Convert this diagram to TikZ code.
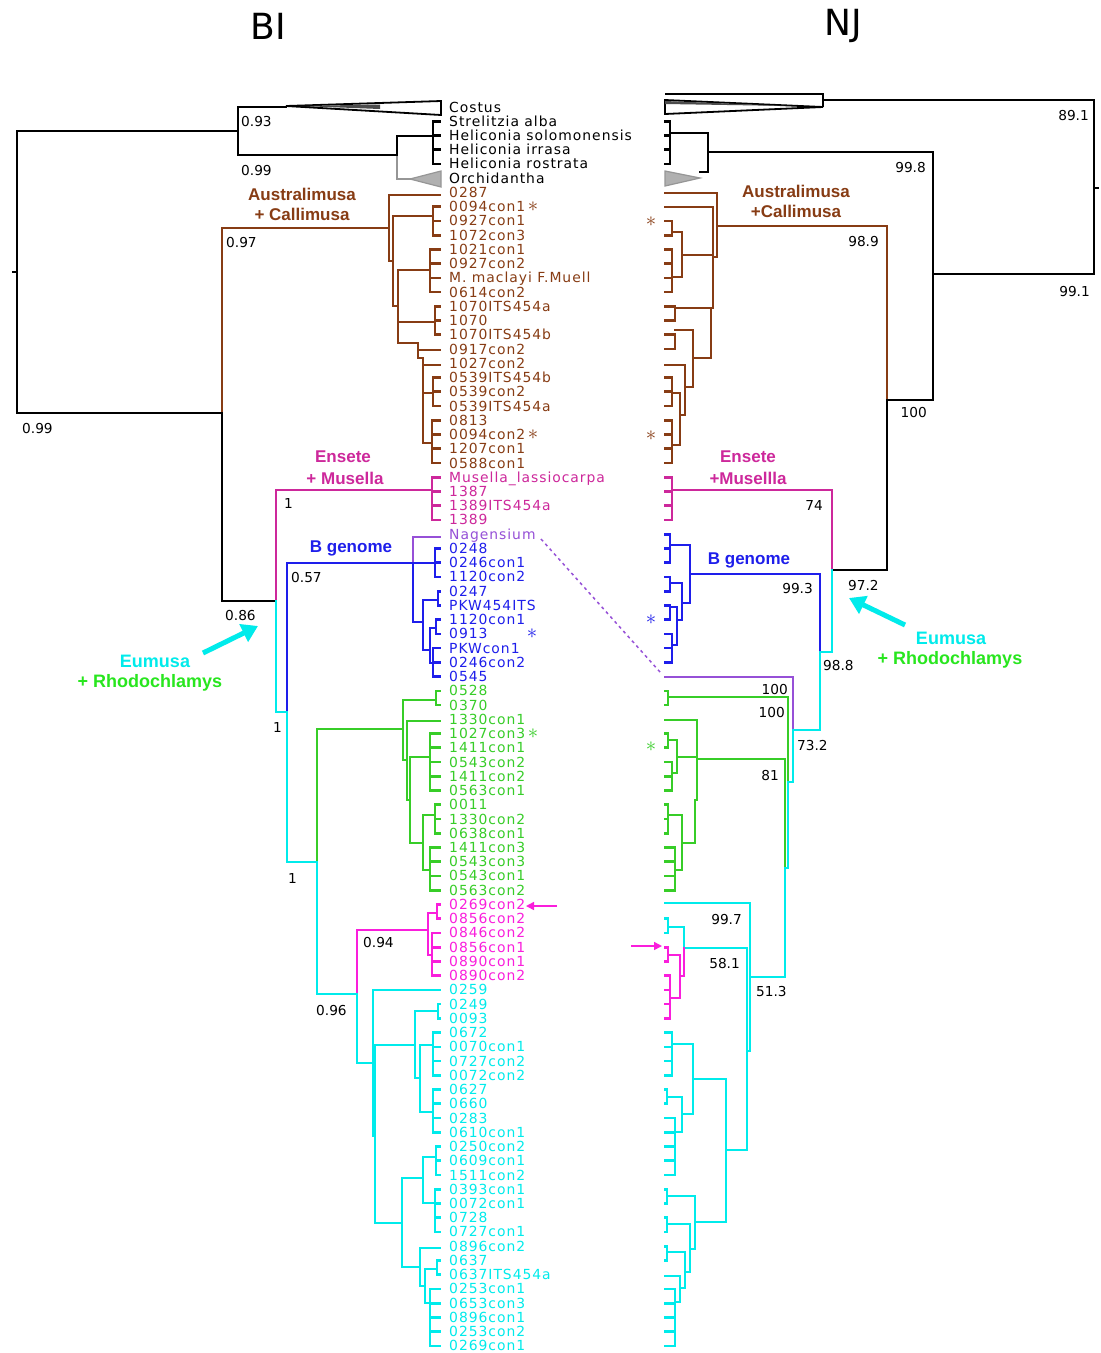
\documentclass[tikz,border=0pt]{standalone}
\usepackage{fontspec}
\setmainfont{DejaVu Sans}
\newfontfamily\tipf[LetterSpace=7]{DejaVu Sans}
\newfontfamily\cladef{Liberation Sans}
\usetikzlibrary{arrows.meta}
\definecolor{cbrown}{RGB}{135,60,20}
\definecolor{cens}{RGB}{205,40,155}
\definecolor{cblue}{RGB}{30,30,235}
\definecolor{cpurp}{RGB}{150,80,215}
\definecolor{cgreen}{RGB}{55,205,40}
\definecolor{cgreenl}{RGB}{40,230,30}
\definecolor{cpink}{RGB}{250,30,220}
\definecolor{ccyan}{RGB}{0,235,235}
\definecolor{cgray}{RGB}{150,150,150}
\newcommand\myry[1]{(107+14.24*(#1-1))}
\newcommand\mycomb[5]{%
  \draw[#1] (#2,{\myry{#4}}) -- (#2,{\myry{#5}});
  \foreach \k in {#4,...,#5}{\draw[#1] (#2,{\myry{\k}}) -- (#3,{\myry{\k}});}}
\tikzset{
  br/.style={line width=2.7pt,line cap=rect},
  bk/.style={br,black}, bb/.style={br,cbrown}, be/.style={br,cens},
  bl/.style={br,cblue}, bp/.style={br,cpurp}, bg/.style={br,cgreen},
  bpk/.style={br,cpink}, bc/.style={br,ccyan}, bgr/.style={br,cgray},
  tip/.style={anchor=west,inner sep=0pt,text height=10pt,text depth=0pt,font=\tipf\fontsize{13.9}{14}\selectfont},
  num/.style={inner sep=0pt,text height=10pt,text depth=0pt,font=\fontsize{13.7}{14}\selectfont},
  clade/.style={inner sep=0pt,font=\cladef\bfseries\fontsize{17}{18}\selectfont},
  bigclade/.style={inner sep=0pt,font=\cladef\bfseries\fontsize{18}{19}\selectfont},
  star/.style={inner sep=0pt,font=\fontsize{22}{22}\selectfont},
  fatarrow/.style={ccyan,line width=5pt,-{Triangle[length=16pt,width=19pt]}},
  thinarrow/.style={cpink,line width=1.5pt,-{Triangle[length=8pt,width=8pt]}}
}
\begin{document}
\begin{tikzpicture}[x=1pt,y=-1pt]
\useasboundingbox (0,0) rectangle (1101,1353);
\fill[white] (0,0) rectangle (1101,1353);
% titles
\node[font=\fontsize{36}{36}\selectfont] (tBI) at (268,26) {BI};
\node[font=\fontsize{36}{36}\selectfont] (tNJ) at (843,26) {NJ};

% ================= BI tree =================
\draw[bk] (17,131)--(17,413);
\draw[bk] (13,272)--(17,272);
\draw[bk] (17,131)--(238,131);
\draw[bk] (238,107)--(238,155);
\draw[bk] (238,107)--(286,107);
\draw[black,line width=1.8pt,fill=white] (286,106)--(441,101)--(441,115)--cycle;
\fill[black!70] (300,106)--(380,104.5)--(380,109)--cycle;
\draw[bk] (238,155)--(397,155);
\draw[bk] (397,136)--(397,157);
\draw[bgr] (397,157)--(397,179);
\draw[bk] (397,136)--(433,136);
\mycomb{bk}{433}{440}{2}{5}
\draw[bgr] (397,179)--(410,179);
\draw[cgray,fill=cgray!75,line width=1.2pt] (410,179)--(441,171)--(441,187)--cycle;
\draw[bk] (17,413)--(222,413);
\draw[bb] (222,228)--(222,413);
\draw[bk] (222,413)--(222,601);
\draw[bb] (222,228)--(389,228);
% brown
\draw[bb] (389,195)--(389,261);
\draw[bb] (389,195)--(440,195);
\draw[bb] (389,261)--(393,261);
\draw[bb] (393,216)--(393,306);
\draw[bb] (393,216)--(433,216);
\mycomb{bb}{433}{440}{8}{10}
\draw[bb] (393,306)--(398,306);
\draw[bb] (398,270)--(398,343);
\draw[bb] (398,270)--(430,270);
\mycomb{bb}{430}{440}{11}{14}
\draw[bb] (398,322)--(435,322);
\mycomb{bb}{435}{440}{15}{17}
\draw[bb] (398,343)--(418,343);
\draw[bb] (418,343)--(418,358);
\draw[bb] (418,350)--(440,350);
\draw[bb] (418,358)--(423,358);
\draw[bb] (423,358)--(423,443);
\draw[bb] (423,365)--(440,365);
\draw[bb] (423,393)--(433,393);
\mycomb{bb}{433}{440}{20}{22}
\draw[bb] (423,443)--(432,443);
\mycomb{bb}{432}{440}{23}{26}
% ensete
\draw[bk] (222,601)--(276,601);
\draw[be] (276,490)--(276,601);
\draw[bc] (276,601)--(276,712);
\draw[be] (276,490)--(432,490);
\mycomb{be}{432}{440}{27}{30}
% blue
\draw[bc] (276,712)--(287,712);
\draw[bl] (287,563)--(287,712);
\draw[bc] (287,712)--(287,862);
\draw[bl] (287,563)--(435,563);
\draw[bp] (413,537)--(413,563);
\draw[bp] (413,537)--(440,537);
\draw[bl] (413,563)--(413,622);
\mycomb{bl}{435}{440}{32}{34}
\draw[bl] (413,622)--(423,622);
\draw[bl] (423,600)--(423,650);
\draw[bl] (423,600)--(438,600);
\mycomb{bl}{438}{440}{35}{36}
\draw[bl] (423,650)--(430,650);
\draw[bl] (430,628)--(430,663);
\draw[bl] (430,628)--(436,628);
\mycomb{bl}{436}{440}{37}{38}
\draw[bl] (430,663)--(433,663);
\mycomb{bl}{433}{440}{39}{41}
% green
\draw[bc] (287,862)--(317,862);
\draw[bg] (317,729)--(317,862);
\draw[bc] (317,862)--(317,994);
\draw[bg] (317,729)--(403,729);
\draw[bg] (403,700)--(403,760);
\draw[bg] (403,700)--(436,700);
\mycomb{bg}{436}{440}{42}{43}
\draw[bg] (403,760)--(407,760);
\draw[bg] (407,721)--(407,800);
\draw[bg] (407,721)--(440,721);
\draw[bg] (407,800)--(410,800);
\draw[bg] (410,757)--(410,843);
\draw[bg] (410,757)--(430,757);
\mycomb{bg}{430}{440}{45}{49}
\draw[bg] (410,843)--(423,843);
\draw[bg] (423,815)--(423,870);
\draw[bg] (423,815)--(435,815);
\mycomb{bg}{435}{440}{50}{52}
\draw[bg] (423,870)--(430,870);
\mycomb{bg}{430}{440}{53}{56}
% pink
\draw[bc] (317,994)--(357,994);
\draw[bpk] (357,930)--(357,994);
\draw[bc] (357,994)--(357,1063);
\draw[bpk] (357,930)--(428,930);
\draw[bpk] (428,913)--(428,955);
\draw[bpk] (428,913)--(437,913);
\mycomb{bpk}{437}{440}{57}{58}
\draw[bpk] (428,955)--(432,955);
\mycomb{bpk}{432}{440}{59}{62}
% cyan
\draw[bc] (357,1063)--(373,1063);
\draw[bc] (373,990)--(373,1136);
\draw[bc] (373,990)--(440,990);
\draw[bc] (373,1136)--(375,1136);
\draw[bc] (375,1045)--(375,1223);
\draw[bc] (375,1045)--(415,1045);
\draw[bc] (415,1011)--(415,1078);
\draw[bc] (415,1011)--(438,1011);
\mycomb{bc}{438}{440}{64}{65}
\draw[bc] (415,1078)--(420,1078);
\draw[bc] (420,1045)--(420,1112);
\draw[bc] (420,1045)--(433,1045);
\mycomb{bc}{433}{440}{66}{69}
\draw[bc] (420,1112)--(433,1112);
\mycomb{bc}{433}{440}{70}{73}
\draw[bc] (375,1223)--(402,1223);
\draw[bc] (402,1178)--(402,1267);
\draw[bc] (402,1178)--(423,1178);
\draw[bc] (423,1157)--(423,1203);
\draw[bc] (423,1157)--(436,1157);
\mycomb{bc}{436}{440}{74}{76}
\draw[bc] (423,1203)--(435,1203);
\mycomb{bc}{435}{440}{77}{80}
\draw[bc] (402,1267)--(420,1267);
\draw[bc] (420,1248)--(420,1286);
\draw[bc] (420,1248)--(440,1248);
\draw[bc] (420,1286)--(425,1286);
\draw[bc] (425,1269)--(425,1303);
\draw[bc] (425,1269)--(437,1269);
\mycomb{bc}{437}{440}{82}{83}
\draw[bc] (425,1303)--(430,1303);
\mycomb{bc}{430}{440}{84}{88}

% BI support values
\node[num,anchor=west] (v1) at (241,121) {0.93};
\node[num,anchor=west] (v2) at (241,170) {0.99};
\node[num,anchor=west] (v3) at (226,242) {0.97};
\node[num,anchor=west] (v4) at (22,428) {0.99};
\node[num,anchor=west] (v5) at (225,615) {0.86};
\node[num,anchor=west] (v6) at (284,503) {1};
\node[num,anchor=west] (v7) at (291,577) {0.57};
\node[num,anchor=west] (v8) at (273,727) {1};
\node[num,anchor=west] (v9) at (288,878) {1};
\node[num,anchor=west] (v10) at (316,1010) {0.96};
\node[num,anchor=west] (v11) at (363,942) {0.94};
% BI clade labels
\node[clade,text=cbrown] (cA1) at (302,194) {Australimusa};
\node[clade,text=cbrown] (cA2) at (302,214) {+ Callimusa};
\node[clade,text=cens] (cE1) at (343,457) {Ensete};
\node[clade,text=cens] (cE2) at (345,478) {+ Musella};
\node[clade,text=cblue] (cB1) at (351,548) {B genome};
\node[bigclade,text=ccyan] (cU1) at (155,661) {Eumusa};
\node[bigclade,text=cgreenl] (cU2) at (150,683) {+ Rhodochlamys};
\coordinate (a1s) at (203,653);
\coordinate (a1e) at (258,626);
\draw[fatarrow] (a1s) -- (a1e);

% ================= tip labels =================
\foreach \lab [count=\i from 1] in {Costus,Strelitzia alba,Heliconia solomonensis,Heliconia irrasa,Heliconia rostrata,Orchidantha}
  {\node[tip] (t\i) at (449,{\myry{\i}}) {\lab};}
\foreach \lab [count=\i from 7] in {0287,0094con1,0927con1,1072con3,1021con1,0927con2,M. maclayi F.Muell,0614con2,1070ITS454a,1070,1070ITS454b,0917con2,1027con2,0539ITS454b,0539con2,0539ITS454a,0813,0094con2,1207con1,0588con1}
  {\node[tip,text=cbrown] (t\i) at (449,{\myry{\i}}) {\lab};}
\foreach \lab [count=\i from 27] in {Musella\_lassiocarpa,1387,1389ITS454a,1389}
  {\node[tip,text=cens] (t\i) at (449,{\myry{\i}}) {\lab};}
\node[tip,text=cpurp] (t31) at (449,{\myry{31}}) {Nagensium};
\foreach \lab [count=\i from 32] in {0248,0246con1,1120con2,0247,PKW454ITS,1120con1,0913,PKWcon1,0246con2,0545}
  {\node[tip,text=cblue] (t\i) at (449,{\myry{\i}}) {\lab};}
\foreach \lab [count=\i from 42] in {0528,0370,1330con1,1027con3,1411con1,0543con2,1411con2,0563con1,0011,1330con2,0638con1,1411con3,0543con3,0543con1,0563con2}
  {\node[tip,text=cgreen] (t\i) at (449,{\myry{\i}}) {\lab};}
\foreach \lab [count=\i from 57] in {0269con2,0856con2,0846con2,0856con1,0890con1,0890con2}
  {\node[tip,text=cpink] (t\i) at (449,{\myry{\i}}) {\lab};}
\foreach \lab [count=\i from 63] in {0259,0249,0093,0672,0070con1,0727con2,0072con2,0627,0660,0283,0610con1,0250con2,0609con1,1511con2,0393con1,0072con1,0728,0727con1,0896con2,0637,0637ITS454a,0253con1,0653con3,0896con1,0253con2,0269con1}
  {\node[tip,text=ccyan] (t\i) at (449,{\myry{\i}}) {\lab};}
% asterisks
\node[star,text=cbrown] (s1) at (533,{\myry{8}}) {$\ast$};
\node[star,text=cbrown] (s2) at (533,{\myry{24}}) {$\ast$};
\node[star,text=cblue] (s3) at (532,{\myry{38}}) {$\ast$};
\node[star,text=cgreen] (s4) at (533,{\myry{45}}) {$\ast$};
\node[star,text=cbrown] (s5) at (651,222) {$\ast$};
\node[star,text=cbrown] (s6) at (651,436) {$\ast$};
\node[star,text=cblue] (s7) at (651,620) {$\ast$};
\node[star,text=cgreen] (s8) at (651,747) {$\ast$};
% small pointers and dashed link
\coordinate (p1s) at (557,906);
\coordinate (p1e) at (526,906);
\draw[thinarrow] (p1s) -- (p1e);
\coordinate (p2s) at (631,946);
\coordinate (p2e) at (662,946);
\draw[thinarrow] (p2s) -- (p2e);
\coordinate (dn1) at (541,539);
\coordinate (dn2) at (660,672);
\draw[cpurp,line width=1.5pt,dash pattern=on 3pt off 3.5pt] (dn1) -- (dn2);

% ================= NJ tree =================
\draw[bk] (1094,100)--(1094,274);
\draw[bk] (1094,188)--(1098,188);
\draw[bk] (823,100)--(1094,100);
\draw[black,line width=1.8pt] (665,94)--(823,94)--(823,107);
\draw[black,line width=1.8pt,fill=white] (665,100)--(823,107)--(665,114)--cycle;
\fill[black!70] (665,101)--(790,106)--(665,104)--cycle;
\draw[bk] (933,274)--(1094,274);
\draw[bk] (933,152)--(933,400);
\draw[bk] (708,152)--(933,152);
\draw[bk] (708,133)--(708,172);
\draw[bk] (670,133)--(708,133);
\mycomb{bk}{670}{665}{2}{5}
\draw[bk] (700,172)--(708,172);
\draw[cgray,fill=cgray!75,line width=1.2pt] (665,171)--(665,186)--(700,178)--cycle;
\draw[bk] (887,400)--(933,400);
\draw[bb] (887,226)--(887,400);
\draw[bk] (887,400)--(887,570);
\draw[bb] (717,226)--(887,226);
% brown NJ
\draw[bb] (717,193)--(717,257);
\draw[bb] (665,193)--(717,193);
\draw[bb] (713,257)--(717,257);
\draw[bb] (713,207)--(713,308);
\draw[bb] (665,207)--(713,207);
\draw[bb] (682,255)--(713,255);
\draw[bb] (682,232)--(682,277);
\draw[bb] (672,232)--(682,232);
\mycomb{bb}{672}{665}{9}{10}
\draw[bb] (672,277)--(682,277);
\mycomb{bb}{672}{665}{11}{14}
\draw[bb] (711,308)--(711,358);
\draw[bb] (675,308)--(711,308);
\mycomb{bb}{675}{665}{15}{16}
\draw[bb] (693,358)--(711,358);
\draw[bb] (693,330)--(693,387);
\draw[bb] (675,330)--(693,330);
\mycomb{bb}{675}{665}{17}{18}
\draw[bb] (685,387)--(693,387);
\draw[bb] (685,365)--(685,415);
\draw[bb] (665,365)--(685,365);
\draw[bb] (680,415)--(685,415);
\draw[bb] (680,393)--(680,445);
\draw[bb] (672,393)--(680,393);
\mycomb{bb}{672}{665}{20}{22}
\draw[bb] (672,445)--(680,445);
\mycomb{bb}{672}{665}{23}{26}
% ensete NJ
\draw[be] (832,490)--(832,570);
\draw[bk] (832,570)--(887,570);
\draw[be] (672,490)--(832,490);
\mycomb{be}{672}{665}{27}{30}
% blue NJ
\draw[bc] (832,570)--(832,652);
\draw[bc] (820,652)--(832,652);
\draw[bl] (820,574)--(820,652);
\draw[bc] (820,652)--(820,730);
\draw[bl] (690,574)--(820,574);
\draw[bl] (690,545)--(690,603);
\draw[bl] (670,545)--(690,545);
\mycomb{bl}{670}{665}{31}{33}
\draw[bl] (682,603)--(690,603);
\draw[bl] (682,583)--(682,620);
\draw[bl] (670,583)--(682,583);
\mycomb{bl}{670}{665}{34}{35}
\draw[bl] (677,620)--(682,620);
\draw[bl] (677,607)--(677,645);
\draw[bl] (670,607)--(677,607);
\mycomb{bl}{670}{665}{36}{37}
\draw[bl] (672,645)--(677,645);
\mycomb{bl}{672}{665}{38}{40}
% purple / green / cyan backbone NJ
\draw[bp] (665,677)--(793,677);
\draw[bc] (793,730)--(820,730);
\draw[bp] (793,677)--(793,730);
\draw[bc] (793,730)--(793,782);
\draw[bc] (788,782)--(793,782);
\draw[bg] (788,697)--(788,782);
\draw[bc] (788,782)--(788,868);
\draw[bg] (668,697)--(788,697);
\mycomb{bg}{668}{665}{42}{43}
\draw[bc] (785,868)--(788,868);
\draw[bg] (785,759)--(785,868);
\draw[bc] (785,868)--(785,977);
\draw[bg] (697,759)--(785,759);
% green NJ
\draw[bg] (697,720)--(697,800);
\draw[bg] (665,720)--(697,720);
\draw[bg] (677,757)--(697,757);
\draw[bg] (677,740)--(677,773);
\draw[bg] (668,740)--(677,740);
\mycomb{bg}{668}{665}{45}{46}
\draw[bg] (672,773)--(677,773);
\mycomb{bg}{672}{665}{47}{49}
\draw[bg] (695,800)--(697,800);
\draw[bg] (695,800)--(695,843);
\draw[bg] (682,843)--(695,843);
\draw[bg] (682,815)--(682,870);
\draw[bg] (668,815)--(682,815);
\mycomb{bg}{668}{665}{50}{52}
\draw[bg] (675,870)--(682,870);
\mycomb{bg}{675}{665}{53}{56}
% cyan + pink NJ
\draw[bc] (750,977)--(785,977);
\draw[bc] (750,903)--(750,1051);
\draw[bc] (665,903)--(750,903);
\draw[bc] (747,1051)--(750,1051);
\draw[bc] (747,948)--(747,1150);
\draw[bc] (684,948)--(747,948);
\draw[bc] (684,927)--(684,948);
\draw[bpk] (684,948)--(684,976);
\draw[bc] (668,927)--(684,927);
\mycomb{bc}{668}{665}{58}{59}
\draw[bpk] (680,976)--(684,976);
\draw[bpk] (680,955)--(680,998);
\draw[bpk] (668,955)--(680,955);
\mycomb{bpk}{668}{665}{60}{61}
\draw[bpk] (670,998)--(680,998);
\mycomb{bpk}{670}{665}{62}{65}
\draw[bc] (726,1150)--(747,1150);
\draw[bc] (726,1079)--(726,1222);
\draw[bc] (693,1079)--(726,1079);
\draw[bc] (693,1044)--(693,1114);
\draw[bc] (672,1044)--(693,1044);
\mycomb{bc}{672}{665}{66}{69}
\draw[bc] (682,1114)--(693,1114);
\draw[bc] (682,1097)--(682,1132);
\draw[bc] (667,1097)--(682,1097);
\mycomb{bc}{667}{665}{70}{71}
\draw[bc] (675,1132)--(682,1132);
\mycomb{bc}{675}{665}{72}{76}
\draw[bc] (695,1222)--(726,1222);
\draw[bc] (695,1196)--(695,1249);
\draw[bc] (667,1196)--(695,1196);
\mycomb{bc}{667}{665}{77}{78}
\draw[bc] (690,1249)--(695,1249);
\draw[bc] (690,1224)--(690,1272);
\draw[bc] (667,1224)--(690,1224);
\mycomb{bc}{667}{665}{79}{80}
\draw[bc] (685,1272)--(690,1272);
\draw[bc] (685,1252)--(685,1288);
\draw[bc] (667,1252)--(685,1252);
\mycomb{bc}{667}{665}{81}{82}
\draw[bc] (680,1288)--(685,1288);
\draw[bc] (680,1276)--(680,1302);
\draw[bc] (665,1276)--(680,1276);
\draw[bc] (675,1302)--(680,1302);
\mycomb{bc}{675}{665}{84}{88}

% NJ support values
\node[num,anchor=east] (w1) at (1089,115) {89.1};
\node[num,anchor=east] (w2) at (926,167) {99.8};
\node[num,anchor=east] (w3) at (879,241) {98.9};
\node[num,anchor=east] (w4) at (1090,291) {99.1};
\node[num,anchor=east] (w5) at (927,412) {100};
\node[num,anchor=east] (w6) at (823,505) {74};
\node[num,anchor=east] (w7) at (813,588) {99.3};
\node[num,anchor=west] (w8) at (848,585) {97.2};
\node[num,anchor=west] (w9) at (823,665) {98.8};
\node[num,anchor=east] (w10) at (788,689) {100};
\node[num,anchor=east] (w11) at (785,712) {100};
\node[num,anchor=west] (w12) at (797,745) {73.2};
\node[num,anchor=east] (w13) at (779,775) {81};
\node[num,anchor=east] (w14) at (742,919) {99.7};
\node[num,anchor=east] (w15) at (740,963) {58.1};
\node[num,anchor=west] (w16) at (756,991) {51.3};
% NJ clade labels
\node[clade,text=cbrown] (dA1) at (796,191) {Australimusa};
\node[clade,text=cbrown] (dA2) at (796,211) {+Callimusa};
\node[clade,text=cens] (dE1) at (748,457) {Ensete};
\node[clade,text=cens] (dE2) at (748,478) {+Musellla};
\node[clade,text=cblue] (dB1) at (749,560) {B genome};
\node[bigclade,text=ccyan] (dU1) at (951,638) {Eumusa};
\node[bigclade,text=cgreenl] (dU2) at (950,660) {+ Rhodochlamys};
\coordinate (a2s) at (905,625);
\coordinate (a2e) at (849,598);
\draw[fatarrow] (a2s) -- (a2e);
\end{tikzpicture}
\end{document}
